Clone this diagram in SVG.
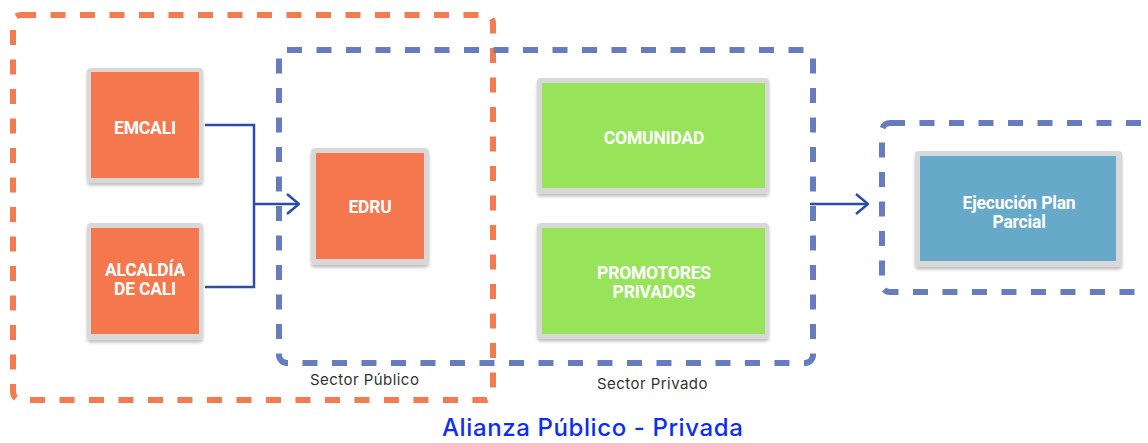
<svg xmlns="http://www.w3.org/2000/svg" width="1148" height="443" viewBox="0 0 1148 443">
<defs>
<style>
.grp-o{fill:none;stroke:#f47b4f;stroke-width:6;stroke-dasharray:15 14.5}
.grp-b{fill:none;stroke:#677cbf;stroke-width:6;stroke-dasharray:15 14.5}
.frame{fill:#d8d8d8;filter:url(#sh)}
.orange{fill:#f5774d}
.green{fill:#97e35a}
.teal{fill:#67a9c8}
.lbl{font-family:Roboto,"Liberation Sans",sans-serif;font-weight:700;font-size:17.5px;fill:#ffffff;text-anchor:middle;letter-spacing:-0.2px}
.cap{font-family:Inter,"Liberation Sans",sans-serif;font-size:15px;fill:#333333;letter-spacing:0.45px}
.title{font-family:Inter,"Liberation Sans",sans-serif;font-size:24px;font-weight:500;fill:#0d2ef5;letter-spacing:0.6px}
.conn{fill:none;stroke:#2b4bb0;stroke-width:2.5}
</style>
<filter id="sh" x="-10%" y="-10%" width="120%" height="130%">
<feDropShadow dx="0" dy="2.5" stdDeviation="1.5" flood-color="#000000" flood-opacity="0.25"/>
</filter>
<marker id="arr" viewBox="0 0 14 22" refX="13" refY="11" markerWidth="14" markerHeight="22" markerUnits="userSpaceOnUse" orient="auto">
<path d="M1,1 L13,11 L1,21" fill="none" stroke="#2b4bb0" stroke-width="2.5"/>
</marker>
</defs>
<rect width="1148" height="443" fill="#ffffff"/>

<g id="grupo-alianza">
<rect class="grp-o" x="13" y="15" width="480" height="385" rx="8"/>
</g>
<g id="grupo-sector">
<rect class="grp-b" x="279" y="50" width="534" height="313" rx="8"/>
</g>
<g id="grupo-ejecucion">
<rect class="grp-b" x="882" y="123" width="300" height="169" rx="8"/>
</g>

<g id="connectors">
<path class="conn" d="M205,125 H254 V287 H205"/>
<path class="conn" d="M254,204 H299" marker-end="url(#arr)"/>
<path class="conn" d="M810,204 H868" marker-end="url(#arr)"/>
</g>

<g id="emcali">
<rect class="frame" x="87" y="68" width="116" height="115" rx="4"/>
<rect class="orange" x="91" y="72" width="108" height="106"/>
<text class="lbl" x="145" y="134">EMCALI</text>
</g>
<g id="alcaldia">
<rect class="frame" x="87" y="223" width="116" height="117" rx="4"/>
<rect class="orange" x="91" y="228" width="108" height="106"/>
<text class="lbl" x="145" y="276">ALCALDÍA</text>
<text class="lbl" x="145" y="295">DE CALI</text>
</g>
<g id="edru">
<rect class="frame" x="311" y="148" width="118" height="117" rx="4"/>
<rect class="orange" x="316" y="153" width="108" height="106"/>
<text class="lbl" x="370" y="213">EDRU</text>
</g>
<g id="comunidad">
<rect class="frame" x="537" y="78" width="232" height="116" rx="4"/>
<rect class="green" x="542" y="83" width="223" height="105"/>
<text class="lbl" x="654" y="144">COMUNIDAD</text>
</g>
<g id="promotores">
<rect class="frame" x="537" y="223" width="232" height="116" rx="4"/>
<rect class="green" x="542" y="228" width="223" height="106"/>
<text class="lbl" x="654" y="279">PROMOTORES</text>
<text class="lbl" x="654" y="298">PRIVADOS</text>
</g>
<g id="ejecucion">
<rect class="frame" x="915" y="151" width="207" height="116" rx="4"/>
<rect class="teal" x="920" y="156" width="196" height="105"/>
<text class="lbl" x="1019" y="209">Ejecución Plan</text>
<text class="lbl" x="1019" y="228">Parcial</text>
</g>

<text class="cap" x="310" y="385">Sector Público</text>
<text class="cap" x="597" y="389">Sector Privado</text>
<text class="title" x="442" y="436">Alianza Público - Privada</text>
</svg>
